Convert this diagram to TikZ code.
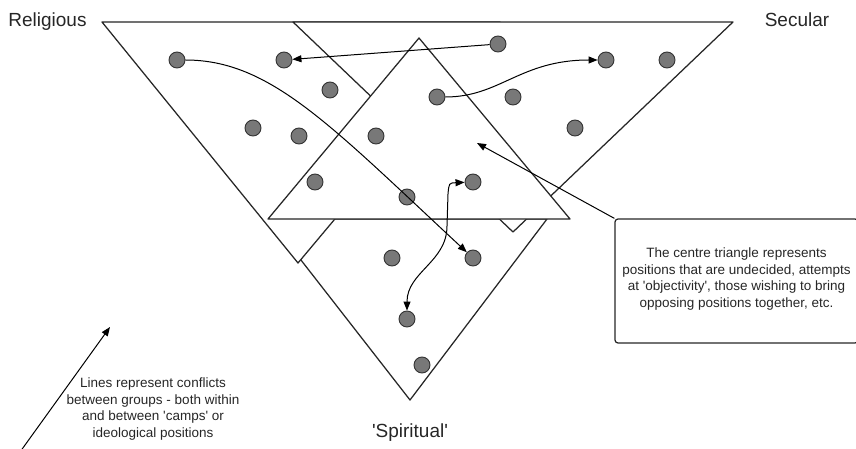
\documentclass[tikz,border=0pt]{standalone}
\usepackage{fontspec}
\setmainfont{Liberation Sans}[Ligatures=TeXOff]
\usetikzlibrary{arrows.meta}
\definecolor{dotgray}{HTML}{787878}
\definecolor{txtcol}{HTML}{262626}
\begin{document}
\begin{tikzpicture}[x=1pt,y=-1pt,
  tri/.style={draw=black!85, line width=1.25pt, fill=white, line join=round},
  dot/.style={circle, draw=black!80, fill=dotgray, line width=0.9pt, minimum size=16pt, inner sep=0pt},
  tip/.tip={Triangle[length=9pt,width=7pt]},
  conn/.style={draw=black, line width=1pt, -tip},
  bothconn/.style={draw=black, line width=1pt, tip-tip},
  lbl/.style={font=\fontsize{19}{22}\selectfont, text=txtcol, anchor=base, inner sep=0pt},
  note/.style={font=\fontsize{13.5}{16.6}\selectfont, text=txtcol, align=center, inner sep=0pt}
]
\useasboundingbox (0,0) rectangle (856,449);
\clip (0,0) rectangle (856,449);
% triangles
\draw[tri] (269,219) -- (547,219) -- (410,400) -- cycle; % spiritual
\draw[tri] (102,22) -- (500,22) -- (298,263) -- cycle; % religious
\draw[tri] (293,22) -- (733,22) -- (513,232) -- cycle; % secular
\draw[tri] (419,38) -- (570,219) -- (268,219) -- cycle; % centre
% labels
\node[lbl] (lrel) at (47.5,27) {Religious};
\node[lbl] (lsec) at (797,27) {Secular};
\node[lbl] (lspi) at (410,437) {'Spiritual'};
% dots
\node[dot] (r1) at (177,60) {};
\node[dot] (r2) at (284,60) {};
\node[dot] (r3) at (330,90) {};
\node[dot] (r4) at (253,128) {};
\node[dot] (r5) at (299,136) {};
\node[dot] (r6) at (315,182) {};
\node[dot] (c1) at (376,136) {};
\node[dot] (c2) at (437,97) {};
\node[dot] (c3) at (473,182) {};
\node[dot] (c4) at (407,197) {};
\node[dot] (s1) at (498,44) {};
\node[dot] (s2) at (513,97) {};
\node[dot] (s3) at (575,128) {};
\node[dot] (s4) at (606,60) {};
\node[dot] (s5) at (667,60) {};
\node[dot] (p1) at (392,258) {};
\node[dot] (p2) at (473,258) {};
\node[dot] (p3) at (407,319) {};
\node[dot] (p4) at (422,365) {};
% callout box
\node[draw=black!85, line width=1.25pt, rounded corners=3pt, minimum width=243pt, minimum height=124pt, inner sep=0pt] (box) at (736.5,281) {};
\node[note] (boxtext) at (736.5,279) {The centre triangle represents\\positions that are undecided, attempts\\at 'objectivity', those wishing to bring\\opposing positions together, etc.};
\coordinate (ctip) at (477,143);
\draw[conn] (box.north west) -- (ctip);
% legend
\coordinate (la1) at (20,452);
\coordinate (la2) at (110,327);
\draw[conn] (la1) -- (la2);
\node[note] (legtext) at (153,409) {Lines represent conflicts\\between groups - both within\\and between 'camps' or\\ideological positions};
% conflict lines
\draw[conn] (s1) -- (r2);
\draw[conn] (r1.east) .. controls (270,60) and (330,125) .. (p2);
\draw[conn] (c2.east) .. controls (500,97) and (520,60) .. (s4);
\draw[bothconn] (p3) .. controls (407,272) and (447,262) .. (447,226) -- (448,194) .. controls (449,183) .. (c3);
\end{tikzpicture}
\end{document}
